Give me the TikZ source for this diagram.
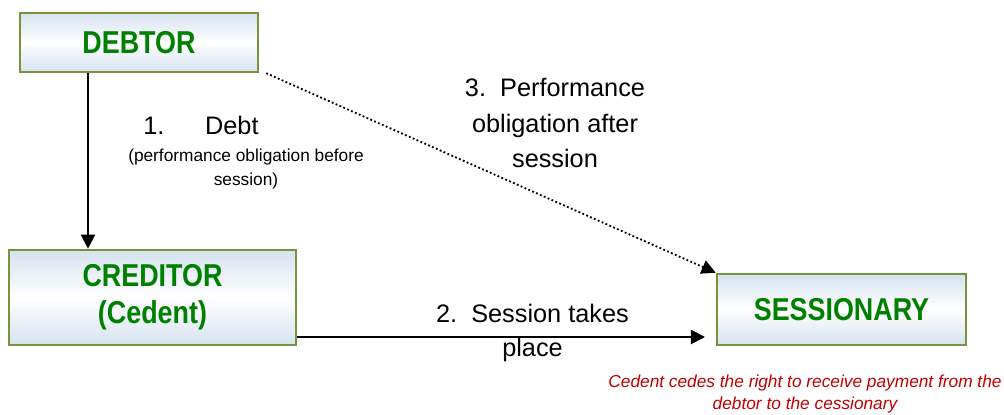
\documentclass[tikz,border=0pt]{standalone}
\usepackage{fontspec}
\setmainfont{Liberation Sans}
\newfontfamily\boitefont[FakeStretch=0.85]{Liberation Sans}
\usetikzlibrary{arrows.meta,positioning}
\definecolor{vertboite}{RGB}{0,128,0}
\definecolor{bordboite}{RGB}{119,147,60}
\definecolor{bleuboite}{RGB}{214,226,240}
\definecolor{rougenote}{RGB}{192,0,0}
\tikzset{
  boite/.style={rectangle, draw=bordboite, line width=1.8pt,
    top color=bleuboite, bottom color=bleuboite, middle color=white,
    align=center, text=vertboite,
    font=\boitefont\bfseries\fontsize{22.5}{26}\selectfont},
  fleche/.style={line width=1.4pt, -{Triangle[length=10pt,width=10pt]}},
  etiquette/.style={align=center, inner sep=0pt, font=\fontsize{18}{25.5}\selectfont},
  petit/.style={align=center, inner sep=0pt, font=\fontsize{12.3}{16.5}\selectfont},
}

\begin{document}
\begin{tikzpicture}
    \useasboundingbox (0,0) rectangle (25.1,10.375);
    % Les trois parties
    \node[boite, minimum width=5.95cm, minimum height=1.475cm] (debiteur) at (3.475,9.3125) {DEBTOR};
    \node[boite, minimum width=7.175cm, minimum height=2.375cm] (creancier) at (3.8125,2.9375) {CREDITOR\\(Cedent)};
    \node[boite, minimum width=6.225cm, minimum height=1.775cm] (cessionnaire) at (21.0375,2.6375) {SESSIONARY};
    % Flèches
    \coordinate (x1) at (2.2,0);
    \draw[fleche] (debiteur.south -| x1) -- (creancier.north -| x1);
    \coordinate (f2) at (17.625,1.95);
    \draw[fleche] (creancier.east |- f2) -- (f2);
    \draw[fleche, line width=1.3pt, dash pattern=on 1.3pt off 1.7pt] ([xshift=0.175cm]debiteur.south east) -- (cessionnaire.north west);
    % Textes des flèches
    \node[etiquette, anchor=west] (etiq1) at (3.575,7.25) {1.\hspace{29pt}Debt};
    \node[petit] (etiq1b) at (6.15,6.15) {(performance obligation before\\session)};
    \node[etiquette] (etiq3) at (13.875,7.3) {3.\ \ Performance\\obligation after\\session};
    \node[etiquette, font=\fontsize{18}{24}\selectfont] (etiq2) at (13.3125,2.05) {2.\ \ Session takes\\place};
    % Note en rouge
    \node[petit, text=rougenote, font=\fontsize{12.3}{15.6}\selectfont\itshape] (note) at (20.125,0.525) {Cedent cedes the right to receive payment from the\\debtor to the cessionary};
\end{tikzpicture}
\end{document}
